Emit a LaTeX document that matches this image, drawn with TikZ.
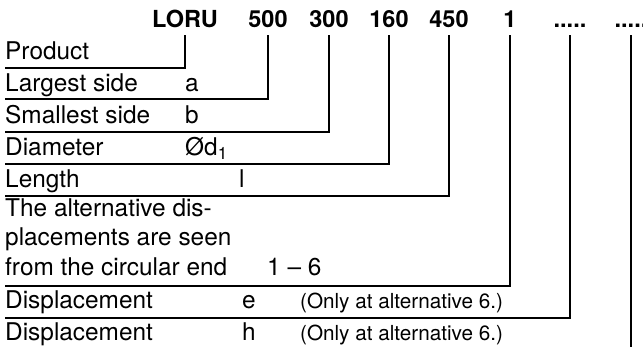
\documentclass[tikz,border=0pt]{standalone}
\usepackage{fontspec}
\setmainfont{TeX Gyre Heros}
\usetikzlibrary{calc}
\begin{document}
\begin{tikzpicture}[x=1pt,y=-1pt,
  lbl/.style={anchor=base west,inner sep=0pt,font=\fontsize{24.4}{29}\selectfont},
  note/.style={anchor=base west,inner sep=0pt,font=\fontsize{20.7}{25}\selectfont},
  code/.style={anchor=base,inner sep=0pt,font=\fontsize{23.5}{28}\selectfont\bfseries},
  lead/.style={line width=2pt,line join=miter}]
\useasboundingbox (0,0) rectangle (643,346);
% codes
\node[code] (cLORU) at (185,27) {LORU};
\node[code] (c500) at (268,27) {500};
\node[code] (c300) at (329,27) {300};
\node[code] (c160) at (389,27) {160};
\node[code] (c450) at (449,27) {450};
\node[code] (c1) at (510,27) {1};
\node[code] (cd1) at (570,27) {.....};
\node[code] (cd2) at (631,27) {.....};
% labels
\node[lbl] (tProd) at (5,59) {Product};
\node[lbl] (tLarg) at (5,91) {Largest side};
\node[lbl] (ta) at (185,91) {a};
\node[lbl] (tSmal) at (5,123) {Smallest side};
\node[lbl] (tb) at (185,123) {b};
\node[lbl] (tDiam) at (5,155) {Diameter};
\node[lbl] (td) at (185,155) {Ød\raisebox{-0.35ex}{\fontsize{17}{19}\selectfont 1}};
\node[lbl] (tLen) at (5,187) {Length};
\node[lbl] (tl) at (239,187) {l};
\node[lbl] (tAlt1) at (5,216) {The alternative dis-};
\node[lbl] (tAlt2) at (5,245.5) {placements are seen};
\node[lbl] (tAlt3) at (5,275) {from the circular end};
\node[lbl] (t16) at (267,275) {1 – 6};
\node[lbl] (tDis1) at (5,308) {Displacement};
\node[lbl] (te) at (242,308) {e};
\node[note] (tOn1) at (300,308) {(Only at alternative 6.)};
\node[lbl] (tDis2) at (5,340) {Displacement};
\node[lbl] (th) at (242,340) {h};
\node[note] (tOn2) at (300,340) {(Only at alternative 6.)};
% line ends
\coordinate (L1) at (5,68);
\coordinate (L2) at (5,99);
\coordinate (L3) at (5,132);
\coordinate (L4) at (5,164);
\coordinate (L5) at (5,196);
\coordinate (L6) at (5,286);
\coordinate (L7) at (5,318);
\coordinate (L8) at (631,348);
% leaders
\draw[lead] ($(cLORU.base)+(0,8)$) |- (L1);
\draw[lead] ($(c500.base)+(0,8)$) |- (L2);
\draw[lead] ($(c300.base)+(0,8)$) |- (L3);
\draw[lead] ($(c160.base)+(0,8)$) |- (L4);
\draw[lead] ($(c450.base)+(0,8)$) |- (L5);
\draw[lead] ($(c1.base)+(0,8)$) |- (L6);
\draw[lead] ($(cd1.base)+(0,8)$) |- (L7);
\draw[lead] ($(cd2.base)+(0,8)$) -- (L8);
\end{tikzpicture}
\end{document}
